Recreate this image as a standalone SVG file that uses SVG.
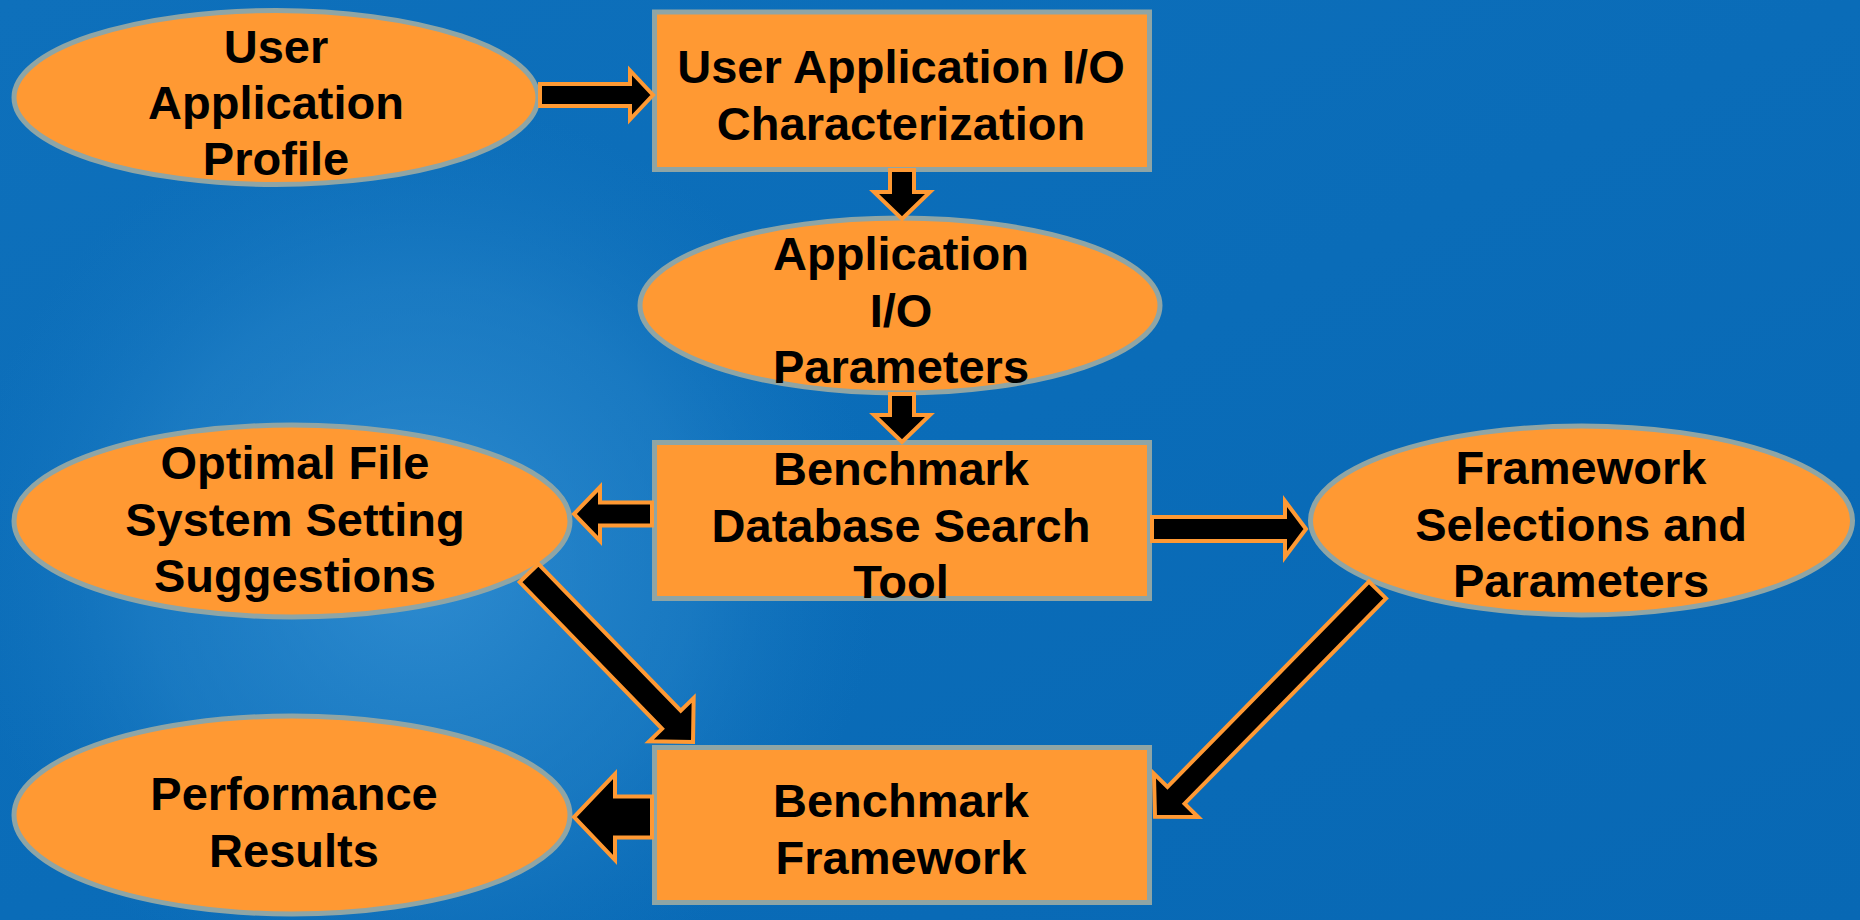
<svg xmlns="http://www.w3.org/2000/svg" width="1860" height="920" viewBox="0 0 1860 920">
  <defs>
    <linearGradient id="bg" x1="0" y1="0" x2="1" y2="1">
      <stop offset="0" stop-color="#0e70bb"/>
      <stop offset="0.5" stop-color="#0a6cb8"/>
      <stop offset="1" stop-color="#0868b4"/>
    </linearGradient>
    <radialGradient id="glow" cx="420" cy="560" r="460" gradientUnits="userSpaceOnUse">
      <stop offset="0" stop-color="#3a96d8" stop-opacity="0.75"/>
      <stop offset="0.6" stop-color="#2a88cc" stop-opacity="0.45"/>
      <stop offset="1" stop-color="#1a7ac2" stop-opacity="0"/>
    </radialGradient>
    <style>
      .node { fill: #ff9933; stroke: #8fa5a5; stroke-width: 5; }
      .lbl { font-family: "Liberation Sans", Arial, sans-serif; font-weight: bold; font-size: 47px; fill: #000; text-anchor: middle; }
      .arr { fill: #000; stroke: #ff9933; stroke-width: 4; stroke-linejoin: miter; }
    </style>
  </defs>

  <rect x="0" y="0" width="1860" height="920" fill="url(#bg)"/>
  <rect x="0" y="0" width="1860" height="920" fill="url(#glow)"/>

  <g id="n1">
    <ellipse class="node" cx="276" cy="97.5" rx="262" ry="87"/>
    <text class="lbl" x="276" y="63">User</text>
    <text class="lbl" x="276" y="119">Application</text>
    <text class="lbl" x="276" y="175">Profile</text>
  </g>

  <g id="n2">
    <rect class="node" x="654.5" y="12" width="495" height="157.5"/>
    <text class="lbl" x="901" y="83">User Application I/O</text>
    <text class="lbl" x="901" y="140">Characterization</text>
  </g>

  <g id="n3">
    <ellipse class="node" cx="900" cy="305.5" rx="260" ry="87.5"/>
    <text class="lbl" x="901" y="270">Application</text>
    <text class="lbl" x="901" y="327">I/O</text>
    <text class="lbl" x="901" y="383">Parameters</text>
  </g>

  <g id="n4">
    <rect class="node" x="654.5" y="442.5" width="495" height="156"/>
    <text class="lbl" x="901" y="485">Benchmark</text>
    <text class="lbl" x="901" y="542">Database Search</text>
    <text class="lbl" x="901" y="598">Tool</text>
  </g>

  <g id="n5">
    <ellipse class="node" cx="292" cy="521" rx="278" ry="96"/>
    <text class="lbl" x="295" y="479">Optimal File</text>
    <text class="lbl" x="295" y="536">System Setting</text>
    <text class="lbl" x="295" y="592">Suggestions</text>
  </g>

  <g id="n6">
    <ellipse class="node" cx="1581.5" cy="520.5" rx="271" ry="94.5"/>
    <text class="lbl" x="1581" y="484">Framework</text>
    <text class="lbl" x="1581" y="541">Selections and</text>
    <text class="lbl" x="1581" y="597">Parameters</text>
  </g>

  <g id="n7">
    <rect class="node" x="654.5" y="747.5" width="495" height="155"/>
    <text class="lbl" x="901" y="817">Benchmark</text>
    <text class="lbl" x="901" y="874">Framework</text>
  </g>

  <g id="n8">
    <ellipse class="node" cx="292" cy="815" rx="278" ry="99"/>
    <text class="lbl" x="294" y="810">Performance</text>
    <text class="lbl" x="294" y="867">Results</text>
  </g>

  <g id="connectors">
    <polygon class="arr" points="540,84 630,84 630,70.5 653,95 630,119.5 630,106 540,106"/>
    <polygon class="arr" points="890,170 890,192 874,192 902,219 930,192 914,192 914,170"/>
    <polygon class="arr" points="890,394 890,415 874,415 902,442 930,415 914,415 914,394"/>
    <polygon class="arr" points="652,502.5 600,502.5 600,487 574,514 600,541 600,525.5 652,525.5"/>
    <polygon class="arr" points="1152,517 1285,517 1285,501 1306,529 1285,557 1285,541 1152,541"/>
    <polygon class="arr" points="652,796.5 615,796.5 615,774 574,817 615,860 615,837.5 652,837.5"/>
    <polygon class="arr" transform="translate(529,573) rotate(45.86)" points="0,-13 204.5,-13 204.5,-31 235.5,0 204.5,31 204.5,13 0,13"/>
    <polygon class="arr" transform="translate(1377.5,590) rotate(134.47)" points="0,-12 287.6,-12 287.6,-31 317.6,0 287.6,31 287.6,12 0,12"/>
  </g>
</svg>
